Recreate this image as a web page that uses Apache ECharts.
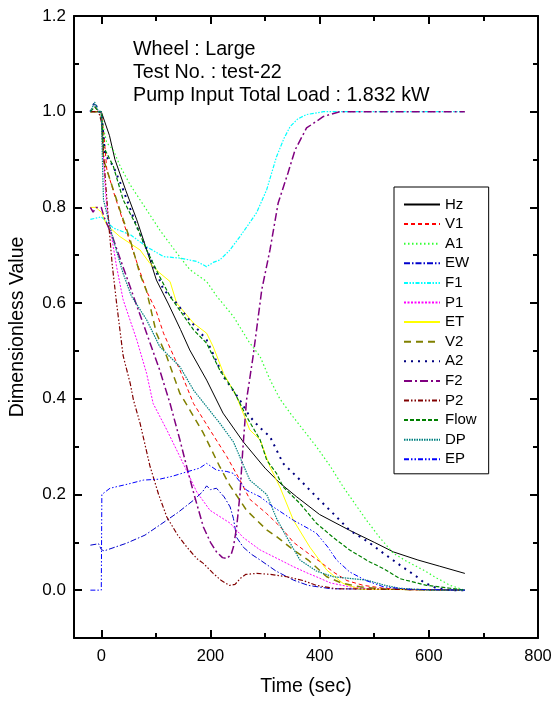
<!DOCTYPE html>
<html>
<head>
<meta charset="utf-8">
<title>Dimensionless Value</title>
<script src="https://cdn.jsdelivr.net/npm/echarts@6/dist/echarts.min.js"></script>
<style>
html, body { margin: 0; padding: 0; background: #fff; }
#main { width: 555px; height: 704px; }
</style>
</head>
<body>
<div id="main"></div>
<script>
// tick positions
var xTicks = [0, 200, 400, 600, 800];
var xMinorTicks = [100, 300, 500, 700];
var yTicks = [0, 0.2, 0.4, 0.6, 0.8, 1.0, 1.2];
var yMinorTicks = [0.1, 0.3, 0.5, 0.7, 0.9, 1.1];

var seriesNames = ['Hz', 'V1', 'A1', 'EW', 'F1', 'P1', 'ET', 'V2', 'A2', 'F2', 'P2', 'Flow', 'DP', 'EP'];

// [time (sec), dimensionless value]
var hzData = [[-20,1],[0,1],[3,1],[15,0.95],[25,0.9],[45,0.835],[65,0.774],[85,0.705],[101,0.648],[123,0.598],[145,0.545],[162,0.502],[193,0.439],[223,0.37],[260,0.31],[300,0.255],[327,0.224],[358,0.195],[400,0.158],[455,0.125],[500,0.1],[535,0.08],[580,0.063],[620,0.05],[666,0.035]];
var v1Data = [[-20,1],[-12,1.01],[-5,1],[0,1],[5,0.95],[10,0.88],[25,0.823],[53,0.726],[83,0.625],[100,0.585],[114,0.537],[144,0.46],[169,0.39],[199,0.335],[230,0.279],[254,0.23],[272,0.19],[303,0.16],[330,0.13],[352,0.1],[379,0.077],[400,0.06],[425,0.038],[450,0.02],[480,0.01],[517,0.004],[560,0.001],[666,0]];
var a1Data = [[-20,1],[-5,1],[0,1],[5,0.96],[10,0.935],[22,0.92],[35,0.885],[53,0.847],[83,0.795],[107,0.753],[138,0.705],[162,0.67],[193,0.645],[211,0.615],[242,0.572],[270,0.52],[291,0.488],[309,0.44],[327,0.4],[346,0.37],[370,0.335],[394,0.3],[420,0.258],[443,0.216],[465,0.18],[486,0.146],[510,0.11],[535,0.077],[560,0.06],[590,0.042],[615,0.025],[639,0.01],[666,0]];
var ewData = [[-20,0.094],[-5,0.097],[0,0.085],[5,0.082],[46,0.098],[80,0.115],[107,0.136],[140,0.162],[169,0.188],[185,0.205],[193,0.218],[200,0.21],[211,0.213],[225,0.195],[236,0.174],[242,0.15],[248,0.11],[260,0.09],[275,0.075],[291,0.063],[320,0.04],[352,0.021],[379,0.01],[420,0.003],[666,0]];
var f1Data = [[-20,0.775],[0,0.78],[10,0.77],[22,0.757],[53,0.743],[83,0.718],[114,0.697],[144,0.694],[175,0.687],[193,0.676],[205,0.685],[217,0.69],[235,0.71],[254,0.739],[270,0.765],[285,0.79],[303,0.837],[321,0.906],[335,0.945],[346,0.969],[360,0.985],[376,0.994],[407,1],[666,1]];
var p1Data = [[-20,1],[-5,1],[0,1],[3,0.93],[6,0.86],[10,0.8],[28,0.676],[40,0.607],[65,0.523],[83,0.453],[95,0.39],[120,0.335],[144,0.279],[175,0.205],[199,0.167],[236,0.14],[260,0.11],[291,0.084],[333,0.06],[352,0.049],[379,0.035],[394,0.028],[420,0.015],[455,0.007],[500,0.002],[666,0]];
var etData = [[-20,0.8],[-10,0.8],[-5,0.795],[0,0.79],[10,0.763],[34,0.739],[71,0.711],[89,0.683],[107,0.663],[126,0.645],[138,0.6],[169,0.558],[193,0.537],[205,0.509],[224,0.453],[248,0.404],[272,0.335],[291,0.314],[309,0.258],[327,0.216],[352,0.146],[382,0.09],[413,0.042],[443,0.014],[474,0.002],[666,0]];
var v2Data = [[-20,1],[-5,1],[0,1],[4,0.9],[16,0.858],[34,0.795],[53,0.732],[71,0.66],[83,0.625],[101,0.537],[120,0.488],[144,0.411],[162,0.377],[187,0.328],[217,0.258],[235,0.22],[266,0.167],[303,0.126],[321,0.112],[352,0.084],[379,0.063],[413,0.028],[440,0.015],[474,0.007],[520,0.002],[666,0]];
var a2Data = [[-20,1],[-12,1.02],[-5,1],[0,1],[7,0.91],[22,0.886],[40,0.837],[65,0.76],[89,0.697],[114,0.628],[138,0.6],[156,0.572],[193,0.523],[224,0.446],[254,0.397],[272,0.363],[290,0.34],[309,0.321],[333,0.265],[360,0.235],[394,0.195],[425,0.16],[455,0.125],[490,0.1],[517,0.077],[550,0.05],[578,0.028],[590,0.017],[614,0.004],[640,0],[666,0]];
var f2Data = [[-20,0.8],[-15,0.79],[-10,0.8],[-5,0.8],[0,0.8],[5,0.78],[20,0.74],[40,0.675],[59,0.614],[83,0.537],[107,0.46],[126,0.39],[144,0.314],[156,0.26],[170,0.2],[187,0.132],[200,0.1],[211,0.08],[222,0.068],[230,0.066],[238,0.075],[242,0.09],[248,0.132],[254,0.2],[259,0.29],[266,0.397],[278,0.488],[294,0.628],[309,0.711],[324,0.809],[342,0.872],[355,0.92],[376,0.966],[407,0.99],[437,1],[666,1]];
var p2Data = [[-20,1],[-5,1],[0,0.98],[8,0.85],[14,0.76],[20,0.68],[28,0.6],[40,0.49],[53,0.432],[59,0.397],[71,0.349],[89,0.26],[105,0.2],[120,0.153],[140,0.115],[156,0.091],[175,0.066],[187,0.056],[205,0.035],[220,0.02],[235,0.01],[245,0.012],[255,0.025],[265,0.033],[285,0.035],[310,0.033],[340,0.028],[370,0.02],[394,0.01],[430,0.003],[666,0]];
var flowData = [[-20,1],[-12,1.01],[-5,1],[0,1],[4,0.927],[22,0.886],[40,0.816],[65,0.76],[83,0.711],[107,0.655],[126,0.614],[169,0.544],[193,0.516],[217,0.46],[242,0.418],[266,0.363],[291,0.314],[303,0.272],[321,0.244],[333,0.216],[364,0.181],[394,0.14],[425,0.11],[455,0.084],[490,0.06],[517,0.045],[547,0.024],[596,0.01],[639,0.004],[666,0]];
var dpData = [[-20,1],[-12,1.02],[-5,1],[0,1],[2,0.9],[4,0.816],[22,0.732],[40,0.662],[55,0.615],[83,0.565],[107,0.509],[144,0.467],[169,0.418],[217,0.349],[242,0.31],[272,0.23],[303,0.2],[321,0.15],[340,0.11],[364,0.063],[394,0.04],[425,0.028],[486,0.021],[520,0.01],[547,0.004],[600,0],[666,0]];
var epData = [[-20,0],[0,0],[1,0.2],[16,0.213],[50,0.222],[77,0.23],[107,0.232],[130,0.238],[156,0.247],[180,0.255],[193,0.265],[211,0.251],[230,0.248],[242,0.244],[255,0.225],[266,0.209],[291,0.195],[315,0.174],[352,0.146],[379,0.129],[394,0.119],[415,0.09],[431,0.063],[455,0.038],[485,0.02],[517,0.007],[560,0.002],[666,0]];

var allData = [hzData, v1Data, a1Data, ewData, f1Data, p1Data, etData, v2Data, a2Data, f2Data, p2Data, flowData, dpData, epData];

// line looks
var lineColors = ['#000000', '#ff0000', '#33ff33', '#0000cc', '#00ffff', '#ff00ff', '#ffff00', '#808000', '#000080', '#800080', '#800000', '#008000', '#008080', '#0000ff'];
var lineDashes = ['solid', [4, 3], [1.5, 2.5], [6, 2, 1.5, 2], [4, 1.5, 1.5, 1.5, 1.5, 1.5], [2, 1.5], 'solid', [7, 5], [2, 5], [8, 3, 2, 3], [5, 2, 1.5, 2, 1.5, 2], [4, 2], [1.5, 1], [5, 2, 1.5, 2, 1.5, 2]];
var lineWidths = [1, 1, 1.2, 1, 1.2, 1, 1, 1.5, 2, 1.5, 1.2, 1.2, 1.2, 1];

var fontName = 'Liberation Sans';

function makeXAxis(gridIndex, pos, ticks, tickLen, main) {
    return {
        type: 'value', gridIndex: gridIndex, position: pos,
        min: -50, max: 800,
        axisLine: { show: main, onZero: false, lineStyle: { color: '#000', width: 2 } },
        axisTick: { show: true, inside: true, length: tickLen, customValues: ticks, lineStyle: { color: '#000', width: 2 } },
        axisLabel: { show: main && pos === 'bottom', customValues: ticks, color: '#000', fontSize: 16.5, fontFamily: fontName, margin: 10 },
        splitLine: { show: false },
        name: (main && pos === 'bottom') ? 'Time (sec)' : '',
        nameLocation: 'middle', nameGap: 39,
        nameTextStyle: { color: '#000', fontSize: 19.5, fontFamily: fontName }
    };
}
function makeYAxis(gridIndex, pos, ticks, tickLen, main) {
    return {
        type: 'value', gridIndex: gridIndex, position: pos,
        min: -0.1, max: 1.2,
        axisLine: { show: main, onZero: false, lineStyle: { color: '#000', width: 2 } },
        axisTick: { show: true, inside: true, length: tickLen, customValues: ticks, lineStyle: { color: '#000', width: 2 } },
        axisLabel: {
            show: main && pos === 'left', customValues: ticks, color: '#000', fontSize: 17, fontFamily: fontName, margin: 8,
            formatter: function (v) { return v.toFixed(1); }
        },
        splitLine: { show: false },
        name: (main && pos === 'left') ? 'Dimensionless Value' : '',
        nameLocation: 'middle', nameGap: 46, nameRotate: 90,
        nameTextStyle: { color: '#000', fontSize: 19.5, fontFamily: fontName }
    };
}

var seriesList = [];
for (var i = 0; i < seriesNames.length; i++) {
    seriesList.push({
        name: seriesNames[i],
        type: 'line',
        xAxisIndex: 0,
        yAxisIndex: 0,
        data: allData[i],
        symbol: 'none',
        showSymbol: false,
        animation: false,
        lineStyle: { color: lineColors[i], width: lineWidths[i], type: lineDashes[i] },
        itemStyle: { color: lineColors[i] }
    });
}

var dom = document.getElementById('main');
var myChart = echarts.init(dom);
var option = {
    backgroundColor: '#fff',
    animation: false,
    title: {
        text: 'Wheel : Large\nTest No. : test-22\nPump Input Total Load : 1.832 kW',
        left: 133, top: 38, padding: 0,
        textStyle: { color: '#000', fontSize: 19.7, fontWeight: 'normal', fontFamily: fontName, lineHeight: 23 }
    },
    legend: {
        data: seriesNames,
        orient: 'vertical',
        left: 394, top: 187,
        borderColor: '#000', borderWidth: 1, borderRadius: 0,
        padding: [10, 12, 7, 9],
        itemWidth: 36, itemHeight: 14, itemGap: 4.6,
        itemStyle: { opacity: 0 },
        textStyle: { color: '#000', fontSize: 15, lineHeight: 14, fontFamily: fontName }
    },
    grid: [
        { left: 74, right: 17, top: 16, bottom: 66 },
        { left: 74, right: 17, top: 16, bottom: 66 }
    ],
    xAxis: [
        makeXAxis(0, 'bottom', xTicks, 8, true),
        makeXAxis(0, 'top', xTicks, 8, true),
        makeXAxis(1, 'bottom', xMinorTicks, 5, false),
        makeXAxis(1, 'top', xMinorTicks, 5, false)
    ],
    yAxis: [
        makeYAxis(0, 'left', yTicks, 8, true),
        makeYAxis(0, 'right', yTicks, 8, true),
        makeYAxis(1, 'left', yMinorTicks, 5, false),
        makeYAxis(1, 'right', yMinorTicks, 5, false)
    ],
    series: seriesList
};
myChart.setOption(option);
</script>
</body>
</html>
